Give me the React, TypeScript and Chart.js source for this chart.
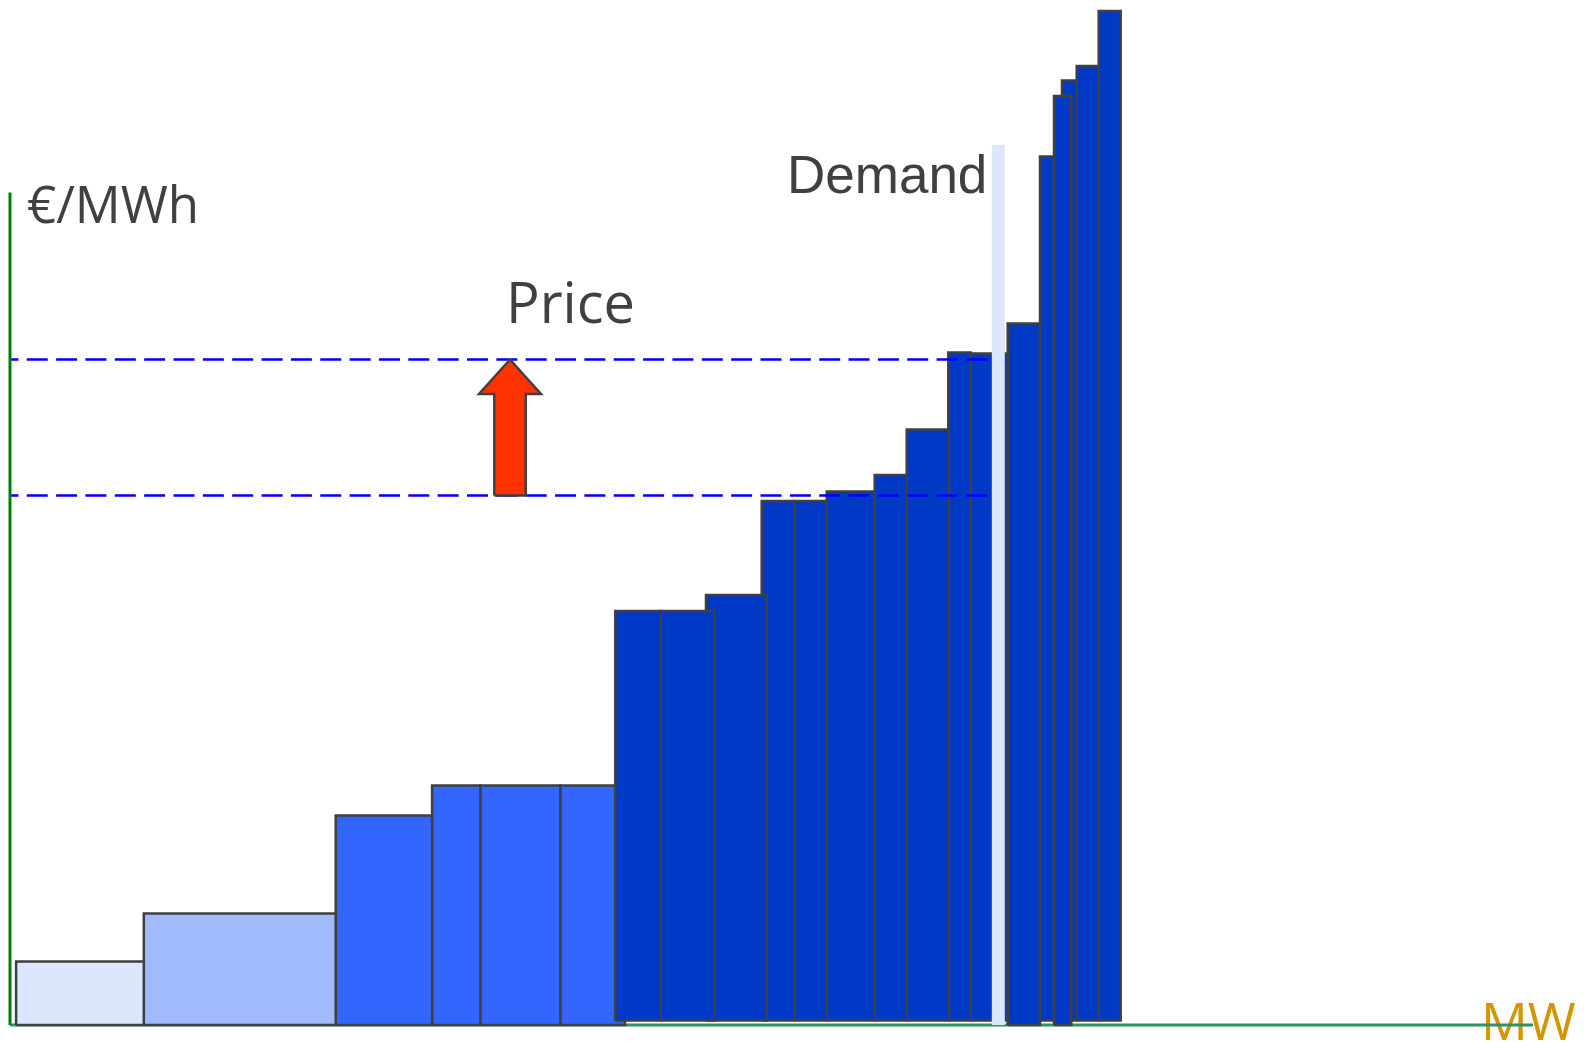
import React, { useEffect, useRef } from "react";
import { Chart, registerables } from "chart.js";

Chart.register(...registerables);

// Merit-order stack: each generating unit offers a block of capacity (MW) at a bid price (€/MWh).
const unitStartMW = [61, 1338, 3257, 4221, 4704, 5503, 6052, 6507, 6960, 7517, 7843, 8167, 8647, 8967, 9383, 9607, 9977, 10300, 10440, 10520, 10667, 10887];
const unitEndMW = [1338, 3257, 4221, 4704, 5503, 6150, 6507, 7047, 7567, 7843, 8167, 8647, 8967, 9390, 9607, 9977, 10300, 10440, 10613, 10667, 10887, 11107];
const unitBidPrice = [12.7, 22.3, 41.9, 47.9, 47.9, 47.9, 82.8, 82.8, 86, 104.8, 104.8, 106.7, 110, 119.1, 134.5, 134.3, 140.3, 173.7, 185.8, 188.9, 191.8, 202.8];
const unitBaseline = [0, 0, 0, 0, 0, 0, 0.9, 0.9, 0.9, 0.9, 0.9, 0.9, 0.9, 0.9, 0.9, 0.9, 0, 0.9, 0, 0.9, 0.9, 0.9];
// Cost tier of each unit (0 = cheapest)
const unitTier = [0, 1, 2, 2, 2, 2, 3, 3, 3, 3, 3, 3, 3, 3, 3, 3, 3, 3, 3, 3, 3, 3];

// Clearing prices before and after the shift, demand level
const clearingPrices = [133.1, 105.9];
const priceLineEndMW = 9773;
const priceLineStartMW = 10;
const demandMW = 9883;
const demandTop = 176;

// Price-rise arrow
const arrowCenterMW = 5000;
const arrowShaftHalfMW = 157;
const arrowHeadHalfMW = 310;
const arrowFrom = 105.9;
const arrowHeadBase = 126.2;
const arrowTip = 133.1;

// Axes extents
const xAxisEndMW = 15230;
const yAxisTop = 166.5;

const tierColors = ["#dce6fc", "#a1bafb", "#3366ff", "#0039c6"];
const edgeColor = "#404040";

const textLabels = [
  { text: "€/MWh", x: 27, y: 223, font: "51px 'Open Sans'", color: "#404040" },
  { text: "Price", x: 506, y: 322.7, font: "56px 'Open Sans'", color: "#404040" },
  { text: "Demand", x: 787, y: 192.7, font: "53px 'Liberation Sans'", color: "#404040" },
  { text: "MW", x: 1481, y: 1040, font: "52px 'Open Sans'", color: "#d39500" },
];

const labelPlugin = {
  id: "labels",
  beforeDatasetsDraw(chart: any) {
    const ctx = chart.ctx;
    ctx.save();
    ctx.textBaseline = "alphabetic";
    ctx.textAlign = "left";
    for (const t of textLabels) {
      ctx.font = t.font;
      ctx.fillStyle = t.color;
      ctx.fillText(t.text, t.x, t.y);
    }
    ctx.restore();
  },
};

function buildDatasets() {
  const sets: any[] = [];
  const base = {
    type: "line",
    pointRadius: 0,
    pointHoverRadius: 0,
    tension: 0,
    clip: false,
  };

  unitBidPrice.forEach((price, i) => {
    const x0 = unitStartMW[i];
    const x1 = unitEndMW[i];
    const b = unitBaseline[i];
    sets.push({
      ...base,
      label: `unit ${i + 1}`,
      data: [
        { x: x0, y: b },
        { x: x0, y: price },
        { x: x1, y: price },
        { x: x1, y: b },
        { x: x0, y: b },
      ],
      fill: "shape",
      backgroundColor: tierColors[unitTier[i]],
      borderColor: edgeColor,
      borderWidth: 2.5,
      borderJoinStyle: "miter",
      order: unitTier[i] < 3 ? 1 : 0,
    });
  });

  // horizontal MW axis, under the stack
  sets.push({
    ...base,
    label: "mw-axis",
    data: [
      { x: 0, y: 0 },
      { x: xAxisEndMW, y: 0 },
    ],
    borderColor: "#2e9464",
    borderWidth: 3,
    fill: false,
    order: 2,
  });

  // vertical price axis
  sets.push({
    ...base,
    label: "price-axis",
    data: [
      { x: 0, y: 0 },
      { x: 0, y: yAxisTop },
    ],
    borderColor: "#008000",
    borderWidth: 3,
    fill: false,
    order: -1,
  });

  // clearing price levels
  clearingPrices.forEach((p, i) => {
    sets.push({
      ...base,
      label: `price ${i + 1}`,
      data: [
        { x: priceLineStartMW, y: p },
        { x: priceLineEndMW, y: p },
      ],
      borderColor: "#0000ff",
      borderWidth: 2.5,
      borderDash: [21, 8.35],
      borderDashOffset: 13.6,
      fill: false,
      order: -1,
    });
  });

  // demand level
  sets.push({
    ...base,
    label: "demand",
    data: [
      { x: demandMW, y: 0 },
      { x: demandMW, y: demandTop },
    ],
    borderColor: "#dce6fc",
    borderWidth: 13,
    borderCapStyle: "butt",
    fill: false,
    order: -2,
  });

  // arrow showing the price rise
  const c = arrowCenterMW;
  sets.push({
    ...base,
    label: "arrow",
    data: [
      { x: c - arrowShaftHalfMW, y: arrowFrom },
      { x: c - arrowShaftHalfMW, y: arrowHeadBase },
      { x: c - arrowHeadHalfMW, y: arrowHeadBase },
      { x: c, y: arrowTip },
      { x: c + arrowHeadHalfMW, y: arrowHeadBase },
      { x: c + arrowShaftHalfMW, y: arrowHeadBase },
      { x: c + arrowShaftHalfMW, y: arrowFrom },
      { x: c - arrowShaftHalfMW, y: arrowFrom },
    ],
    fill: "shape",
    backgroundColor: "#ff3300",
    borderColor: edgeColor,
    borderWidth: 2.5,
    borderJoinStyle: "miter",
    order: -2,
  });

  return sets;
}

export default function App() {
  const canvasRef = useRef<HTMLCanvasElement | null>(null);

  useEffect(() => {
    const canvas = canvasRef.current;
    if (!canvas) return;
    const chart = new Chart(canvas, {
      type: "line",
      data: { datasets: buildDatasets() },
      options: {
        responsive: false,
        animation: false,
        devicePixelRatio: 1,
        events: [],
        layout: { padding: { left: 10, right: 28, top: 0, bottom: 20 } },
        plugins: {
          legend: { display: false },
          tooltip: { enabled: false },
        },
        scales: {
          x: { type: "linear", min: 0, max: 15500, display: false },
          y: { type: "linear", min: 0, max: 205, display: false },
        },
      },
      plugins: [labelPlugin],
    } as any);

    let alive = true;
    Promise.all([
      document.fonts.load("51px 'Open Sans'"),
      document.fonts.load("53px 'Liberation Sans'"),
    ])
      .then(() => {
        if (alive) chart.draw();
      })
      .catch(() => {});

    return () => {
      alive = false;
      chart.destroy();
    };
  }, []);

  return (
    <div style={{ position: "absolute", left: 0, top: 0, width: 1588, height: 1045, background: "#ffffff" }}>
      <canvas ref={canvasRef} width={1588} height={1045} style={{ display: "block" }} />
    </div>
  );
}
